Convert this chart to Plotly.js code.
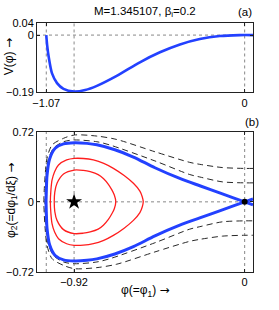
<!DOCTYPE html>
<html><head><meta charset="utf-8">
<script src="https://cdn.plot.ly/plotly-3.0.1.min.js"></script>
<style>html,body{margin:0;padding:0;background:#fff}#c{width:279px;height:310px}</style>
</head><body><div id="c"></div>
<script>
// Panel (a): Sagdeev potential V(phi)
const phiV = [-1.07, -1.065, -1.057, -1.039, -1.012, -0.977, -0.92, -0.86, -0.797, -0.69, -0.565, -0.457, -0.349, -0.242, -0.134, -0.027, 0.045];
const Vvals = [0, -0.035, -0.072, -0.127, -0.159, -0.178, -0.187, -0.182, -0.168, -0.135, -0.090, -0.057, -0.031, -0.013, -0.003, 0, 0];

// Panel (b): upper halves of phase trajectories (phi, phi2)
const sepPhi = [-1.071, -1.069, -1.066, -1.052, -1.022, -0.977, -0.918, -0.85, -0.797, -0.70, -0.60, -0.484, -0.35, -0.242, -0.12, 0, 0.045];
const sepPhi2 = [0, 0.15, 0.27, 0.44, 0.55, 0.595, 0.607, 0.60, 0.585, 0.535, 0.46, 0.35, 0.24, 0.165, 0.082, 0, -0.03];

const redOutPhi = [-1.048, -1.045, -1.039, -1.025, -1.004, -0.96, -0.919, -0.87, -0.816, -0.76, -0.708, -0.65, -0.60, -0.565, -0.552, -0.547];
const redOutPhi2 = [0, 0.12, 0.223, 0.31, 0.378, 0.43, 0.446, 0.445, 0.43, 0.395, 0.344, 0.27, 0.19, 0.11, 0.05, 0];

const redInPhi = [-1.027, -1.024, -1.012, -0.977, -0.919, -0.87, -0.833, -0.79, -0.762, -0.735, -0.717, -0.703, -0.695];
const redInPhi2 = [0, 0.10, 0.19, 0.285, 0.326, 0.322, 0.309, 0.28, 0.24, 0.18, 0.125, 0.07, 0];

const dashOutPhi = [-1.083, -1.081, -1.075, -1.066, -1.039, -0.977, -0.918, -0.797, -0.69, -0.484, -0.296, -0.242, -0.12, 0, 0.045];
const dashOutPhi2 = [0, 0.12, 0.30, 0.446, 0.583, 0.652, 0.686, 0.675, 0.64, 0.514, 0.405, 0.385, 0.352, 0.343, 0.343];

const dashInPhi = [-1.077, -1.075, -1.07, -1.063, -1.031, -0.977, -0.918, -0.797, -0.726, -0.484, -0.296, -0.242, -0.12, 0, 0.045];
const dashInPhi2 = [0, 0.12, 0.30, 0.41, 0.55, 0.617, 0.635, 0.617, 0.583, 0.42, 0.28, 0.255, 0.205, 0.195, 0.195];

const starPt = [-0.92, 0];
const saddlePt = [0, 0];

const gridX = [-1.07, -0.92, 0];   // dotted vertical reference lines (both panels)
const gridYTop = [0];
const gridYBot = [0];
const xTicksTop = [-1.07, 0];
const xTickTextTop = ['\u22121.07', '0'];
const xTicksBot = [-0.92, 0];
const xTickTextBot = ['\u22120.92', '0'];
const yTicksTop = [-0.19, 0, 0.04];
const yTickTextTop = ['\u22120.19', '0', '0.04'];
const yTicksBot = [-0.72, 0, 0.72];
const yTickTextBot = ['\u22120.72', '0', '0.72'];

function mirror(px, py){
  const x = px.slice().reverse().concat(px.slice(1));
  const y = py.slice().reverse().concat(py.slice(1).map(v => -v));
  return {x, y};
}

const BLUE = 'rgb(35,65,255)';
const RED = 'rgb(255,30,30)';
const DK = 'rgb(40,40,40)';

const sep = mirror(sepPhi, sepPhi2);
const ro = mirror(redOutPhi, redOutPhi2);
const ri = mirror(redInPhi, redInPhi2);
const dO = mirror(dashOutPhi, dashOutPhi2);
const dI = mirror(dashInPhi, dashInPhi2);

const traces = [
  {x: phiV, y: Vvals, xaxis: 'x2', yaxis: 'y2', mode: 'lines', line: {color: BLUE, width: 2.6, shape: 'spline', smoothing: 0.8}},
  {x: dO.x, y: dO.y, mode: 'lines', line: {color: DK, width: 1, dash: '6px,4px', shape: 'spline', smoothing: 0.8}},
  {x: dI.x, y: dI.y, mode: 'lines', line: {color: DK, width: 1, dash: '6px,4px', shape: 'spline', smoothing: 0.8}},
  {x: ro.x, y: ro.y, mode: 'lines', line: {color: RED, width: 1.3, shape: 'spline', smoothing: 0.8}},
  {x: ri.x, y: ri.y, mode: 'lines', line: {color: RED, width: 1.3, shape: 'spline', smoothing: 0.8}},
  {x: sep.x, y: sep.y, mode: 'lines', line: {color: BLUE, width: 3, shape: 'spline', smoothing: 0.8}},
  {x: [starPt[0]], y: [starPt[1]], mode: 'markers', marker: {symbol: 'star', size: 12, color: 'black'}},
  {x: [saddlePt[0]], y: [saddlePt[1]], mode: 'markers', marker: {symbol: 'circle', size: 6, color: 'black'}}
];

const GRIDLINE = {color: '#888', width: 1, dash: 'dot'};
const shapes = [];
gridX.forEach(v => {
  shapes.push({type: 'line', xref: 'x2', yref: 'y2 domain', x0: v, x1: v, y0: 0, y1: 1, line: GRIDLINE, layer: 'below'});
  shapes.push({type: 'line', xref: 'x', yref: 'y domain', x0: v, x1: v, y0: 0, y1: 1, line: GRIDLINE, layer: 'below'});
});
gridYTop.forEach(v => shapes.push({type: 'line', xref: 'x2 domain', yref: 'y2', x0: 0, x1: 1, y0: v, y1: v, line: GRIDLINE, layer: 'below'}));
gridYBot.forEach(v => shapes.push({type: 'line', xref: 'x domain', yref: 'y', x0: 0, x1: 1, y0: v, y1: v, line: GRIDLINE, layer: 'below'}));

const axBase = {
  showline: true, linecolor: '#222', linewidth: 1, mirror: 'ticks',
  ticks: 'inside', ticklen: 3, tickcolor: '#222', zeroline: false, showgrid: false,
  tickfont: {size: 11, color: '#000'}, fixedrange: true, tickmode: 'array'
};
const XR = [-1.12, 0.045];
const ARROW = '<span style="font-family:DejaVu Sans">\u2192</span>';

const layout = {
  width: 279, height: 310,
  margin: {l: 37, r: 26, t: 23, b: 38},
  paper_bgcolor: '#fff', plot_bgcolor: '#fff',
  showlegend: false,
  font: {family: 'Liberation Sans, Arial, sans-serif', size: 11, color: '#000'},
  xaxis: Object.assign({}, axBase, {range: XR, anchor: 'y', domain: [0, 1], tickvals: xTicksBot, ticktext: xTickTextBot}),
  yaxis: Object.assign({}, axBase, {range: [-0.72, 0.72], domain: [0, 0.5635], tickvals: yTicksBot, ticktext: yTickTextBot}),
  xaxis2: Object.assign({}, axBase, {range: XR, anchor: 'y2', domain: [0, 1], tickvals: xTicksTop, ticktext: xTickTextTop}),
  yaxis2: Object.assign({}, axBase, {range: [-0.19, 0.04], domain: [0.721, 1], anchor: 'x2', tickvals: yTicksTop, ticktext: yTickTextTop}),
  shapes: shapes,
  annotations: [
    {text: 'M=1.345107, \u03b2<sub>i</sub>=0.2', xref: 'paper', yref: 'paper', x: 0.5, y: 1.046, xanchor: 'center', yanchor: 'middle', showarrow: false, font: {size: 11.5}},
    {text: '(a)', xref: 'paper', yref: 'paper', x: 0.962, y: 1.046, xanchor: 'center', yanchor: 'middle', showarrow: false, font: {size: 11.5}},
    {text: '(b)', xref: 'paper', yref: 'paper', x: 0.994, y: 0.602, xanchor: 'center', yanchor: 'middle', showarrow: false, font: {size: 11.5}},
    {text: 'V(\u03c6) ' + ARROW, xref: 'paper', yref: 'paper', x: -0.129, y: 0.863, xanchor: 'center', yanchor: 'middle', textangle: -90, showarrow: false, font: {size: 12}},
    {text: '\u03c6<sub>2</sub>(=d\u03c6<sub>1</sub>/d\u03be) ' + ARROW, xref: 'paper', yref: 'paper', x: -0.116, y: 0.289, xanchor: 'center', yanchor: 'middle', textangle: -90, showarrow: false, font: {size: 12}},
    {text: '\u03c6(=\u03c6<sub>1</sub>) ' + ARROW, xref: 'paper', yref: 'paper', x: 0.5, y: -0.078, xanchor: 'center', yanchor: 'middle', showarrow: false, font: {size: 12}}
  ]
};

Plotly.newPlot('c', traces, layout, {staticPlot: true, displayModeBar: false});
</script></body></html>
